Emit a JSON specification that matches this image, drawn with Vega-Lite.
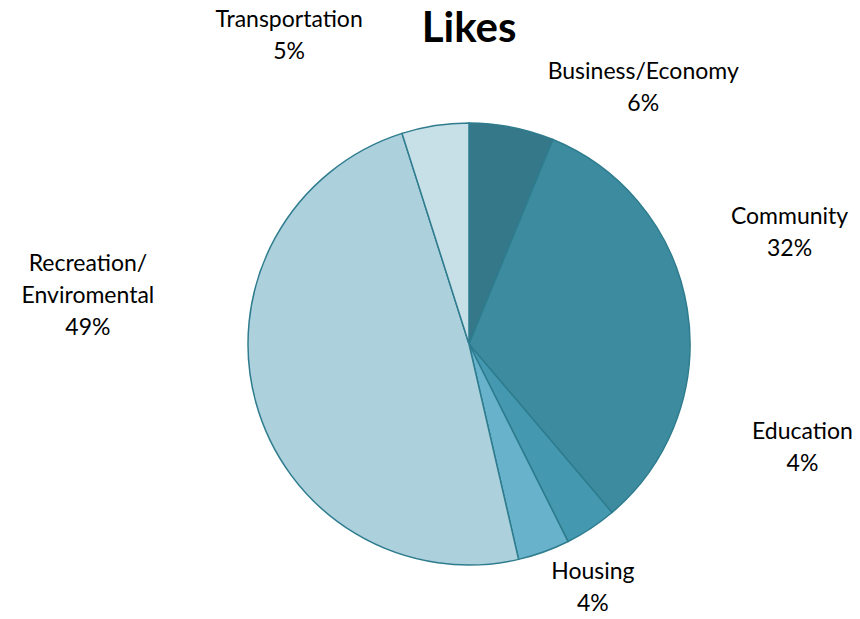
{
  "$schema": "https://vega.github.io/schema/vega-lite/v6.json",
  "width": 742,
  "height": 488,
  "autosize": {"type": "none"},
  "padding": {"left": 98, "top": 100, "right": 20, "bottom": 31},
  "background": "white",
  "view": {"stroke": null},
  "title": {
    "text": "Likes",
    "fontSize": 42,
    "fontWeight": "bold",
    "font": "Lato",
    "color": "black",
    "anchor": "middle",
    "offset": -42
  },
  "data": {
    "values": [
      {"label": "Business/Economy", "value": 6.2, "txt": "Business/Economy\n6%"},
      {"label": "Community", "value": 32.6, "txt": "Community\n32%"},
      {"label": "Education", "value": 3.8, "txt": "Education\n4%"},
      {"label": "Housing", "value": 3.8, "txt": "Housing\n4%"},
      {"label": "Recreation/Enviromental", "value": 48.7, "txt": "Recreation/\nEnviromental\n49%"},
      {"label": "Transportation", "value": 4.9, "txt": "Transportation\n5%"}
    ]
  },
  "layer": [
    {
      "mark": {"type": "arc", "radius": 221, "stroke": "#2E7C8E", "strokeWidth": 1.5},
      "encoding": {
        "theta": {"field": "value", "type": "quantitative", "stack": true, "scale": {"domain": [0, 100]}},
        "order": {"field": "label", "type": "ordinal"},
        "color": {
          "field": "label",
          "type": "nominal",
          "legend": null,
          "scale": {
            "domain": ["Business/Economy", "Community", "Education", "Housing", "Recreation/Enviromental", "Transportation"],
            "range": ["#35788A", "#3D8B9F", "#4499B0", "#68B3CB", "#ACD0DC", "#C7DFE7"]
          }
        }
      }
    },
    {
      "mark": {
        "type": "text",
        "radius": 280,
        "lineBreak": "\n",
        "font": "Lato",
        "fontSize": 23,
        "color": "black",
        "align": "center",
        "baseline": "middle",
        "lineHeight": 32,
        "dx": {"expr": "datum.label === 'Business/Economy' ? 120 : datum.label === 'Community' ? 44 : datum.label === 'Education' ? 179 : datum.label === 'Housing' ? 29 : datum.label === 'Recreation/Enviromental' ? -111 : -137"},
        "dy": {"expr": "datum.label === 'Business/Economy' ? 3 : datum.label === 'Community' ? -83 : datum.label === 'Education' ? -146 : datum.label === 'Housing' ? -35 : datum.label === 'Recreation/Enviromental' ? -154 : -47"}
      },
      "encoding": {
        "theta": {"field": "value", "type": "quantitative", "stack": true, "scale": {"domain": [0, 100]}},
        "order": {"field": "label", "type": "ordinal"},
        "text": {"field": "txt", "type": "nominal"}
      }
    }
  ]
}
